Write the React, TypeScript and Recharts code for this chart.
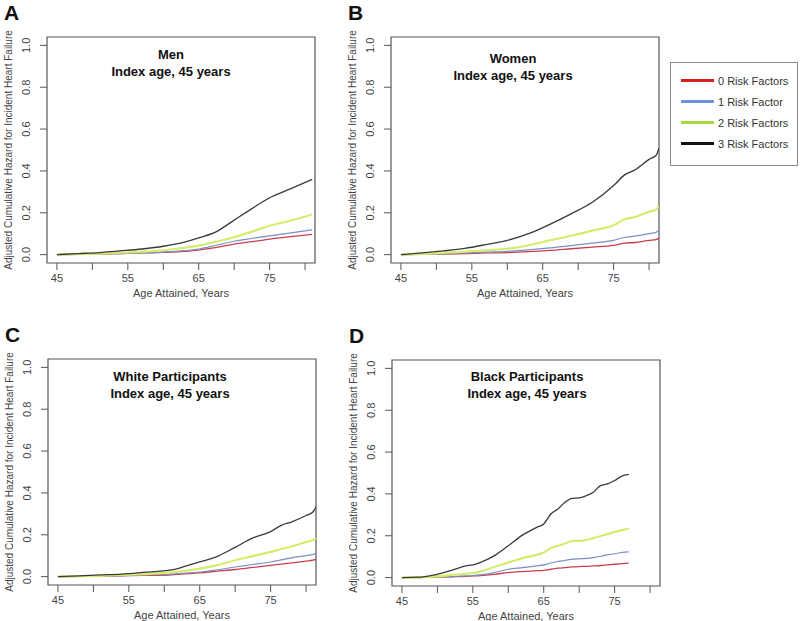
import React from 'react';
import { LineChart, Line, XAxis, YAxis, ReferenceArea, Legend } from 'recharts';

// Ages (years) at which the curves are read, per panel
const AGES_MEN = [45, 48, 51, 54, 57, 60, 63, 65, 67.5, 70, 72.5, 75, 78, 81];
const MEN_0 = [0, 0.001, 0.003, 0.005, 0.008, 0.011, 0.016, 0.022, 0.035, 0.05, 0.062, 0.074, 0.086, 0.097];
const MEN_1 = [0, 0.001, 0.003, 0.005, 0.008, 0.012, 0.019, 0.027, 0.045, 0.064, 0.077, 0.09, 0.104, 0.118];
const MEN_2 = [0, 0.002, 0.005, 0.009, 0.014, 0.021, 0.033, 0.043, 0.062, 0.083, 0.11, 0.138, 0.163, 0.192];
const MEN_3 = [0, 0.005, 0.01, 0.018, 0.027, 0.04, 0.06, 0.08, 0.11, 0.165, 0.22, 0.272, 0.315, 0.36];

const AGES_WOMEN = [45, 48, 51, 54, 57, 60, 63, 66, 69, 72, 75, 76.5, 78, 80, 81, 81.4];
const WOMEN_0 = [0, 0.001, 0.003, 0.005, 0.008, 0.01, 0.014, 0.02, 0.028, 0.036, 0.044, 0.055, 0.058, 0.068, 0.072, 0.08];
const WOMEN_1 = [0, 0.002, 0.004, 0.008, 0.012, 0.016, 0.023, 0.032, 0.043, 0.055, 0.068, 0.082, 0.088, 0.1, 0.107, 0.115];
const WOMEN_2 = [0, 0.004, 0.008, 0.014, 0.021, 0.028, 0.045, 0.068, 0.09, 0.115, 0.14, 0.168, 0.18, 0.205, 0.215, 0.232];
const WOMEN_3 = [0, 0.008, 0.018, 0.03, 0.048, 0.068, 0.1, 0.145, 0.195, 0.25, 0.33, 0.38, 0.405, 0.455, 0.475, 0.51];

const AGES_WHITE = [45, 48, 51, 54, 57, 61, 63, 65, 67.5, 70, 72.5, 75, 76.5, 78, 80, 81, 81.4];
const WHITE_0 = [0, 0.001, 0.002, 0.004, 0.006, 0.009, 0.013, 0.018, 0.026, 0.034, 0.044, 0.054, 0.06, 0.066, 0.074, 0.079, 0.082];
const WHITE_1 = [0, 0.001, 0.003, 0.005, 0.008, 0.012, 0.017, 0.022, 0.033, 0.046, 0.058, 0.07, 0.08, 0.09, 0.1, 0.106, 0.11];
const WHITE_2 = [0, 0.002, 0.004, 0.008, 0.012, 0.02, 0.028, 0.038, 0.055, 0.078, 0.098, 0.118, 0.132, 0.145, 0.165, 0.175, 0.183];
const WHITE_3 = [0, 0.004, 0.008, 0.012, 0.02, 0.032, 0.05, 0.07, 0.097, 0.14, 0.185, 0.215, 0.245, 0.262, 0.292, 0.31, 0.334];

const AGES_BLACK = [45, 47, 48, 50, 52, 54, 55, 56, 58, 60, 62, 64, 65, 66, 67, 68, 69, 70, 71, 72, 73, 74, 75, 76, 77];
const BLACK_0 = [0, 0, 0.001, 0.002, 0.004, 0.006, 0.008, 0.01, 0.016, 0.024, 0.029, 0.033, 0.035, 0.04, 0.045, 0.048, 0.051, 0.053, 0.054, 0.056, 0.058, 0.061, 0.064, 0.067, 0.069];
const BLACK_1 = [0, 0, 0.001, 0.003, 0.005, 0.008, 0.01, 0.013, 0.024, 0.04, 0.048, 0.056, 0.061, 0.07, 0.077, 0.082, 0.088, 0.09, 0.092, 0.096, 0.102, 0.109, 0.114, 0.12, 0.123];
const BLACK_2 = [0, 0.001, 0.002, 0.006, 0.013, 0.019, 0.022, 0.029, 0.051, 0.072, 0.093, 0.109, 0.12, 0.141, 0.152, 0.163, 0.176, 0.176, 0.18, 0.189, 0.198, 0.208, 0.218, 0.227, 0.235];
const BLACK_3 = [0, 0.002, 0.004, 0.016, 0.035, 0.056, 0.061, 0.072, 0.104, 0.152, 0.203, 0.24, 0.256, 0.304, 0.328, 0.36, 0.379, 0.381, 0.392, 0.408, 0.44, 0.448, 0.464, 0.485, 0.493];

const SERIES_NAMES = ['0 Risk Factors', '1 Risk Factor', '2 Risk Factors', '3 Risk Factors'];
const LINE_COLORS = ['#c8404c', '#7a90c0', '#d6ec6c', '#3a3a3a'];
const LEGEND_COLORS = ['#d42020', '#7090e0', '#a8d848', '#111111'];
const LINE_WIDTHS = [1.3, 1.2, 2.2, 1.3];

const X_TICKS = [45, 50, 55, 60, 65, 70, 75, 80];
const X_LABELS = [45, 55, 65, 75];
const Y_TICKS = [0, 0.2, 0.4, 0.6, 0.8, 1.0];
const X_DOMAIN = [43.6, 81.4];
const Y_DOMAIN = [-0.04, 1.04];

const FONT = '"Liberation Sans", Arial, sans-serif';
const PLOT_W = 268;
const PLOT_H = 226;

function buildRows(ages: number[], series: number[][]) {
  return ages.map((age, i) => ({
    age,
    r0: series[0][i],
    r1: series[1][i],
    r2: series[2][i],
    r3: series[3][i],
  }));
}

const LegendBox = () => (
  <div
    style={{
      width: 128,
      height: 104,
      boxSizing: 'border-box',
      border: '1px solid #8a8a8a',
      paddingTop: 7,
      background: 'white',
      fontFamily: FONT,
      textAlign: 'left',
    }}
  >
    {SERIES_NAMES.map((name, i) => (
      <div key={name} style={{ display: 'flex', alignItems: 'center', height: 21 }}>
        <div style={{ marginLeft: 10, width: 33, height: 3, background: LEGEND_COLORS[i] }} />
        <span style={{ marginLeft: 4, fontSize: 11, color: '#333' }}>{name}</span>
      </div>
    ))}
  </div>
);

interface PanelProps {
  letter: string;
  title: string;
  ages: number[];
  series: number[][];
  plotLeft: number;
  plotTop: number;
  titleX: number;
  titleTop: number;
  legend?: boolean;
}

function Panel({ letter, title, ages, series, plotLeft, plotTop, titleX, titleTop, legend }: PanelProps) {
  const rows = buildRows(ages, series);
  const chartLeft = plotLeft - 47;
  const chartTop = plotTop - 37;
  const rightMargin = legend ? 800 - plotLeft - PLOT_W : 20;
  const width = 47 + PLOT_W + rightMargin;
  const height = 37 + PLOT_H + 45;

  return (
    <>
      <div style={{ position: 'absolute', left: chartLeft, top: chartTop }}>
        <LineChart
          width={width}
          height={height}
          data={rows}
          margin={{ top: 37, left: 17, right: rightMargin, bottom: 15 }}
        >
          <XAxis
            dataKey="age"
            type="number"
            domain={X_DOMAIN}
            ticks={X_TICKS}
            allowDataOverflow
            tickFormatter={(v: number) => (X_LABELS.includes(v) ? String(v) : '')}
            axisLine={false}
            tickLine={{ stroke: '#555' }}
            tickSize={7}
            tickMargin={4}
            height={30}
            tick={{ fontSize: 11, fontFamily: FONT, fill: '#444' }}
            label={{
              value: 'Age Attained, Years',
              position: 'insideBottom',
              offset: -4,
              style: { fontSize: 11, fontFamily: FONT, fill: '#444' },
            }}
          />
          <YAxis
            type="number"
            domain={Y_DOMAIN}
            ticks={Y_TICKS}
            allowDataOverflow
            axisLine={false}
            tickLine={{ stroke: '#555' }}
            tickSize={7}
            tickMargin={14}
            width={30}
            tickFormatter={(v: number) => v.toFixed(1)}
            tick={{ angle: -90, textAnchor: 'middle', fontSize: 11, fontFamily: FONT, fill: '#444' }}
            label={{
              value: 'Adjusted Cumulative Hazard for Incident Heart Failure',
              angle: -90,
              position: 'insideLeft',
              offset: -9,
              style: { textAnchor: 'middle', fontSize: 10, fontFamily: FONT, fill: '#444' },
            }}
          />
          <ReferenceArea
            x1={X_DOMAIN[0]}
            x2={X_DOMAIN[1]}
            y1={Y_DOMAIN[0]}
            y2={Y_DOMAIN[1]}
            fill="none"
            stroke="#555"
            strokeWidth={1.2}
          />
          {['r0', 'r1', 'r2', 'r3'].map((key, i) => (
            <Line
              key={key}
              dataKey={key}
              name={SERIES_NAMES[i]}
              type="monotone"
              stroke={LINE_COLORS[i]}
              strokeWidth={LINE_WIDTHS[i]}
              dot={false}
              isAnimationActive={false}
            />
          ))}
          {legend && (
            <Legend
              layout="horizontal"
              align="center"
              verticalAlign="middle"
              content={<LegendBox />}
              wrapperStyle={{ position: 'absolute', left: 670 - chartLeft, top: 62 - chartTop, width: 128, height: 104 }}
            />
          )}
        </LineChart>
      </div>
      <div
        style={{
          position: 'absolute',
          left: titleX - 120,
          top: titleTop,
          width: 240,
          textAlign: 'center',
          fontFamily: FONT,
          fontWeight: 'bold',
          fontSize: 13,
          lineHeight: '17px',
          color: '#111',
          whiteSpace: 'pre',
        }}
      >
        {title + '\nIndex age, 45 years'}
      </div>
      <div
        style={{
          position: 'absolute',
          left: plotLeft - 43,
          top: plotTop - 35,
          fontFamily: FONT,
          fontWeight: 'bold',
          fontSize: 21,
          lineHeight: '21px',
          color: '#111',
        }}
      >
        {letter}
      </div>
    </>
  );
}

export default function App() {
  return (
    <div style={{ position: 'absolute', left: 0, top: 0, width: 800, height: 621, background: 'white' }}>
      <Panel
        letter="A"
        title="Men"
        ages={AGES_MEN}
        series={[MEN_0, MEN_1, MEN_2, MEN_3]}
        plotLeft={47}
        plotTop={37}
        titleX={171}
        titleTop={46}
      />
      <Panel
        letter="B"
        title="Women"
        ages={AGES_WOMEN}
        series={[WOMEN_0, WOMEN_1, WOMEN_2, WOMEN_3]}
        plotLeft={391}
        plotTop={37}
        titleX={513}
        titleTop={50}
        legend
      />
      <Panel
        letter="C"
        title="White Participants"
        ages={AGES_WHITE}
        series={[WHITE_0, WHITE_1, WHITE_2, WHITE_3]}
        plotLeft={48}
        plotTop={359}
        titleX={170}
        titleTop={368}
      />
      <Panel
        letter="D"
        title="Black Participants"
        ages={AGES_BLACK}
        series={[BLACK_0, BLACK_1, BLACK_2, BLACK_3]}
        plotLeft={392}
        plotTop={360}
        titleX={527}
        titleTop={368}
      />
    </div>
  );
}
